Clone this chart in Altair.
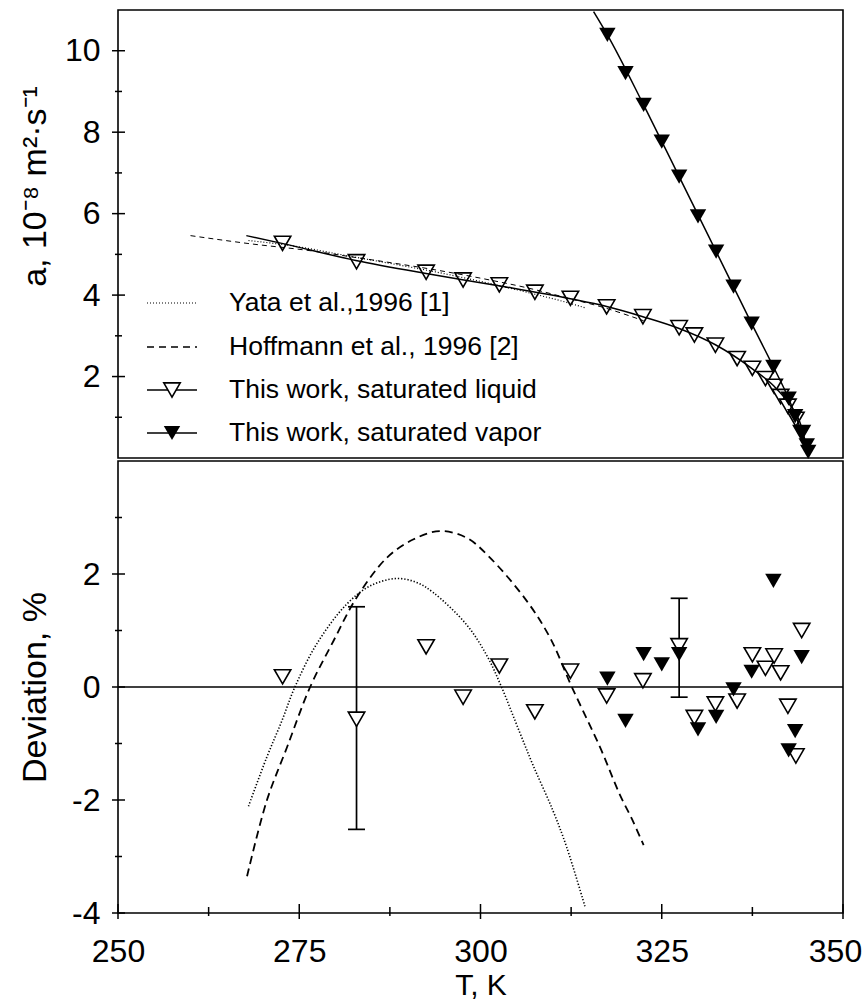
import altair as alt
import pandas as pd

# ---------------- data ----------------
# top panel: thermal diffusivity a, 10^-8 m2/s
liq_T = [272.7, 282.9, 292.5, 297.6, 302.6, 307.5, 312.4, 317.4, 322.4, 327.4,
         329.5, 332.4, 335.4, 337.5, 339.3, 340.5, 341.4, 342.4, 343.5, 344.3]
liq_a = [5.27, 4.82, 4.56, 4.37, 4.25, 4.07, 3.92, 3.71, 3.47, 3.20,
         3.02, 2.77, 2.44, 2.20, 1.95, 1.76, 1.51, 1.27, 0.95, 0.62]
liq_dev = [0.18, -0.57, 0.71, -0.18, 0.37, -0.44, 0.28, -0.16, 0.11, 0.73,
           -0.54, -0.30, -0.25, 0.57, 0.33, 0.55, 0.25, -0.34, -1.22, 1.00]

vap_T = [317.5, 320.0, 322.5, 325.0, 327.4, 330.0, 332.5, 334.9, 337.4, 340.4,
         342.5, 343.4, 344.3]
vap_a = [10.39, 9.45, 8.67, 7.77, 6.91, 5.93, 5.07, 4.21, 3.30, 2.24,
         1.46, 1.03, 0.62]
vap_dev = [0.15, -0.60, 0.58, 0.40, 0.58, -0.75, -0.53, -0.04, 0.27, 1.88,
           -1.12, -0.78, 0.53]
vap_extra_T = [345.0, 345.2]
vap_extra_a = [0.31, 0.15]

liq_fit_T = [267.7, 272.6, 282.8, 292.5, 302.5, 312.4, 317.4, 322.4, 327.4,
             332.4, 337.5, 340.5, 342.4, 344.3, 345.2]
liq_fit_a = [5.46, 5.27, 4.85, 4.53, 4.23, 3.91, 3.72, 3.47, 3.18,
             2.78, 2.19, 1.76, 1.37, 0.75, 0.08]
vap_fit_T = [315.6, 317.5, 322.5, 327.4, 332.5, 337.4, 340.4, 342.5, 344.3, 345.2]
vap_fit_a = [10.96, 10.39, 8.67, 6.91, 5.07, 3.30, 2.24, 1.46, 0.62, 0.08]

yata_T = [268.0, 274.4, 281.5, 288.4, 293.5, 298.1, 302.9, 307.3, 311.9, 314.4]
yata_a = [5.34, 5.20, 4.97, 4.75, 4.58, 4.41, 4.22, 4.03, 3.82, 3.69]
hoff_T = [260.0, 267.8, 276.5, 282.9, 287.1, 294.4, 301.3, 306.4, 312.6, 316.5, 322.5]
hoff_a = [5.46, 5.27, 5.09, 4.92, 4.81, 4.60, 4.37, 4.18, 3.90, 3.72, 3.37]

# bottom panel: deviation, %
yata_dev_T = [268.0, 270.5, 272.6, 274.4, 277.4, 281.5, 284.8, 288.4, 291.2,
              293.5, 298.1, 300.9, 302.9, 305.4, 307.3, 310.0, 311.9, 314.4]
yata_dev = [-2.11, -1.25, -0.60, 0.0, 0.76, 1.46, 1.79, 1.92, 1.85,
            1.67, 1.10, 0.55, 0.0, -0.80, -1.40, -2.19, -2.84, -3.88]
hoff_dev_T = [267.8, 270.5, 273.3, 276.5, 279.7, 282.9, 287.1, 290.7, 294.4,
              298.1, 301.3, 306.4, 309.6, 312.6, 316.5, 319.2, 320.9, 322.5]
hoff_dev = [-3.35, -2.02, -1.07, 0.0, 0.81, 1.58, 2.29, 2.61, 2.76,
            2.64, 2.29, 1.52, 0.87, 0.0, -1.07, -1.90, -2.34, -2.80]

err_T = [282.9, 327.4]
err_lo = [-2.52, -0.18]
err_hi = [1.42, 1.57]

legend_labels = ["Yata et al.,1996 [1]", "Hoffmann et al., 1996 [2]",
                 "This work, saturated liquid", "This work, saturated vapor"]

x_major = [250, 275, 300, 325, 350]
x_minor = [262.5, 287.5, 312.5, 337.5]
ytop_major = [2, 4, 6, 8, 10]
ytop_minor = [1, 3, 5, 7, 9]
ybot_major = [-4, -2, 0, 2]
ybot_minor = [-3, -1, 1, 3]

# ---------------- styling ----------------
FONT = "Liberation Sans"
W, HT, HB = 725, 448, 452
LBL = 32
YTTL = 34
XTTL = 30
MSIZE = 270

xs = alt.Scale(domain=[250, 350], nice=False, zero=False)
yts = alt.Scale(domain=[0, 11], nice=False, zero=False)
ybs = alt.Scale(domain=[-4, 4], nice=False, zero=False)

top_axis = alt.Axis(values=ytop_major, ticks=False, domain=False, grid=False,
                    labelFont=FONT, labelFontSize=LBL, labelPadding=18,
                    labelExpr="'' + datum.value",
                    title="a, 10⁻⁸ m²·s⁻¹", titleFont=FONT, titleFontSize=YTTL,
                    titleFontWeight="normal", titleAngle=-90, titleX=-73,
                    titleY=176, titleAlign="center", titleBaseline="alphabetic")
bot_axis = alt.Axis(values=ybot_major, ticks=False, domain=False, grid=False,
                    labelFont=FONT, labelFontSize=LBL, labelPadding=18,
                    labelExpr="'' + datum.value",
                    title="Deviation, %", titleFont=FONT, titleFontSize=YTTL,
                    titleFontWeight="normal", titleAngle=-90, titleX=-73,
                    titleY=HB / 2, titleAlign="center", titleBaseline="alphabetic")
x_axis = alt.Axis(values=x_major, ticks=False, domain=False, grid=False,
                  labelFont=FONT, labelFontSize=LBL, labelPadding=23,
                  labelFlush=False, labelOverlap=False,
                  labelOffset={"condition": {"test": "datum.value == 350", "value": -8},
                               "value": 0},
                  title="T, K", titleFont=FONT, titleFontSize=XTTL,
                  titleFontWeight="normal", titleY=81, titleBaseline="alphabetic")


def XT(axis=None):
    return alt.X("T:Q", scale=xs, axis=axis)


def YT():
    return alt.Y("v:Q", scale=yts, axis=top_axis)


def YB():
    return alt.Y("v:Q", scale=ybs, axis=bot_axis)


def df(T, v):
    return pd.DataFrame({"T": T, "v": v})


one = pd.DataFrame({"k": [0]})

# ---------------- top panel ----------------
liq_pts = alt.Chart(df(liq_T, liq_a)).mark_point(
    shape="triangle-down", filled=True, fill="white", stroke="black",
    strokeWidth=1.6, size=MSIZE, opacity=1).encode(x=XT(), y=YT())
vap_pts = alt.Chart(df(vap_T + vap_extra_T, vap_a + vap_extra_a)).mark_point(
    shape="triangle-down", filled=True, color="black", size=MSIZE,
    opacity=1).encode(x=XT(), y=YT())
liq_line = alt.Chart(df(liq_fit_T, liq_fit_a)).mark_line(
    color="black", strokeWidth=1.5, interpolate="monotone").encode(x=XT(), y=YT())
vap_line = alt.Chart(df(vap_fit_T, vap_fit_a)).mark_line(
    color="black", strokeWidth=1.5, interpolate="monotone", clip=True).encode(x=XT(), y=YT())
yata_line = alt.Chart(df(yata_T, yata_a)).mark_line(
    color="black", strokeWidth=1.2, strokeDash=[1, 2], interpolate="monotone").encode(x=XT(), y=YT())
hoff_line = alt.Chart(df(hoff_T, hoff_a)).mark_line(
    color="black", strokeWidth=1.0, strokeDash=[5, 4], interpolate="monotone").encode(x=XT(), y=YT())

top_ticks_major = alt.Chart(pd.DataFrame({"v": ytop_major})).mark_rule(
    color="black", strokeWidth=1.5).encode(y=YT(), x=alt.value(-6), x2=alt.value(7))
top_ticks_minor = alt.Chart(pd.DataFrame({"v": ytop_minor})).mark_rule(
    color="black", strokeWidth=1.5).encode(y=YT(), x=alt.value(-3), x2=alt.value(4))

# legend (inside the top panel)
LEG_Y = [293, 337, 380, 423]
LX1, LX2, LSYM, LTXT = 29, 79, 54, 111
leg_layers = [
    alt.Chart(one).mark_rule(color="black", strokeWidth=1.2, strokeDash=[1, 2]).encode(
        x=alt.value(LX1), x2=alt.value(LX2), y=alt.value(LEG_Y[0])),
    alt.Chart(one).mark_rule(color="black", strokeWidth=1.5, strokeDash=[7, 5]).encode(
        x=alt.value(LX1), x2=alt.value(LX2), y=alt.value(LEG_Y[1])),
    alt.Chart(one).mark_rule(color="black", strokeWidth=1.6).encode(
        x=alt.value(LX1), x2=alt.value(LX2), y=alt.value(LEG_Y[2])),
    alt.Chart(one).mark_point(shape="triangle-down", filled=True, fill="white",
                              stroke="black", strokeWidth=1.6, size=MSIZE, opacity=1).encode(
        x=alt.value(LSYM), y=alt.value(LEG_Y[2])),
    alt.Chart(one).mark_rule(color="black", strokeWidth=1.6).encode(
        x=alt.value(LX1), x2=alt.value(LX2), y=alt.value(LEG_Y[3])),
    alt.Chart(one).mark_point(shape="triangle-down", filled=True, color="black",
                              size=MSIZE, opacity=1).encode(
        x=alt.value(LSYM), y=alt.value(LEG_Y[3])),
]
for i, lab in enumerate(legend_labels):
    leg_layers.append(
        alt.Chart(one).mark_text(align="left", baseline="middle", font=FONT,
                                 fontSize=26.5, color="black").encode(
            x=alt.value(LTXT), y=alt.value(LEG_Y[i]), text=alt.value(lab)))

top = alt.layer(liq_pts, vap_pts, liq_line, vap_line, yata_line, hoff_line,
                top_ticks_major, top_ticks_minor, *leg_layers).properties(width=W, height=HT)

# ---------------- bottom panel ----------------
zero_line = alt.Chart(pd.DataFrame({"v": [0]})).mark_rule(
    color="black", strokeWidth=1.6).encode(y=YB(), x=alt.value(0), x2=alt.value(W))
yata_d = alt.Chart(df(yata_dev_T, yata_dev)).mark_line(
    color="black", strokeWidth=1.6, strokeDash=[1.3, 1.9], interpolate="catmull-rom").encode(
    x=XT(x_axis), y=YB())
hoff_d = alt.Chart(df(hoff_dev_T, hoff_dev)).mark_line(
    color="black", strokeWidth=1.8, strokeDash=[8, 5], interpolate="catmull-rom").encode(
    x=XT(x_axis), y=YB())
err_df = pd.DataFrame({"T": err_T, "v": err_lo, "v2": err_hi})
err_rule = alt.Chart(err_df).mark_rule(color="black", strokeWidth=1.7).encode(
    x=XT(x_axis), y=YB(), y2="v2:Q")
cap_df = pd.DataFrame({"T": err_T + err_T, "v": err_lo + err_hi})
err_caps = alt.Chart(cap_df).mark_tick(color="black", orient="horizontal",
                                        size=17, thickness=1.7, opacity=1).encode(
    x=XT(x_axis), y=YB())
liq_d = alt.Chart(df(liq_T, liq_dev)).mark_point(
    shape="triangle-down", filled=True, fill="white", stroke="black",
    strokeWidth=1.6, size=MSIZE, opacity=1).encode(x=XT(x_axis), y=YB())
vap_d = alt.Chart(df(vap_T, vap_dev)).mark_point(
    shape="triangle-down", filled=True, color="black", size=MSIZE,
    opacity=1).encode(x=XT(x_axis), y=YB())

bot_ticks_major = alt.Chart(pd.DataFrame({"v": ybot_major})).mark_rule(
    color="black", strokeWidth=1.5).encode(y=YB(), x=alt.value(-6), x2=alt.value(7))
bot_ticks_minor = alt.Chart(pd.DataFrame({"v": ybot_minor})).mark_rule(
    color="black", strokeWidth=1.5).encode(y=YB(), x=alt.value(-3), x2=alt.value(4))
x_ticks_major = alt.Chart(pd.DataFrame({"T": x_major})).mark_rule(
    color="black", strokeWidth=1.5).encode(x=XT(x_axis), y=alt.value(HB - 9), y2=alt.value(HB + 6))
x_ticks_minor = alt.Chart(pd.DataFrame({"T": x_minor})).mark_rule(
    color="black", strokeWidth=1.5).encode(x=XT(x_axis), y=alt.value(HB - 6), y2=alt.value(HB + 3))

bottom = alt.layer(zero_line, yata_d, hoff_d, err_rule, err_caps, liq_d, vap_d,
                   bot_ticks_major, bot_ticks_minor, x_ticks_major, x_ticks_minor
                   ).properties(width=W, height=HB)

chart = alt.vconcat(top, bottom, spacing=0).properties(
    padding={"left": 17, "top": 9, "right": 0, "bottom": 0},
    background="white",
).configure_view(stroke="black", strokeWidth=1.6).configure_concat(spacing=0)

chart.save("out.html", embed_options={"renderer": "svg", "actions": False})
